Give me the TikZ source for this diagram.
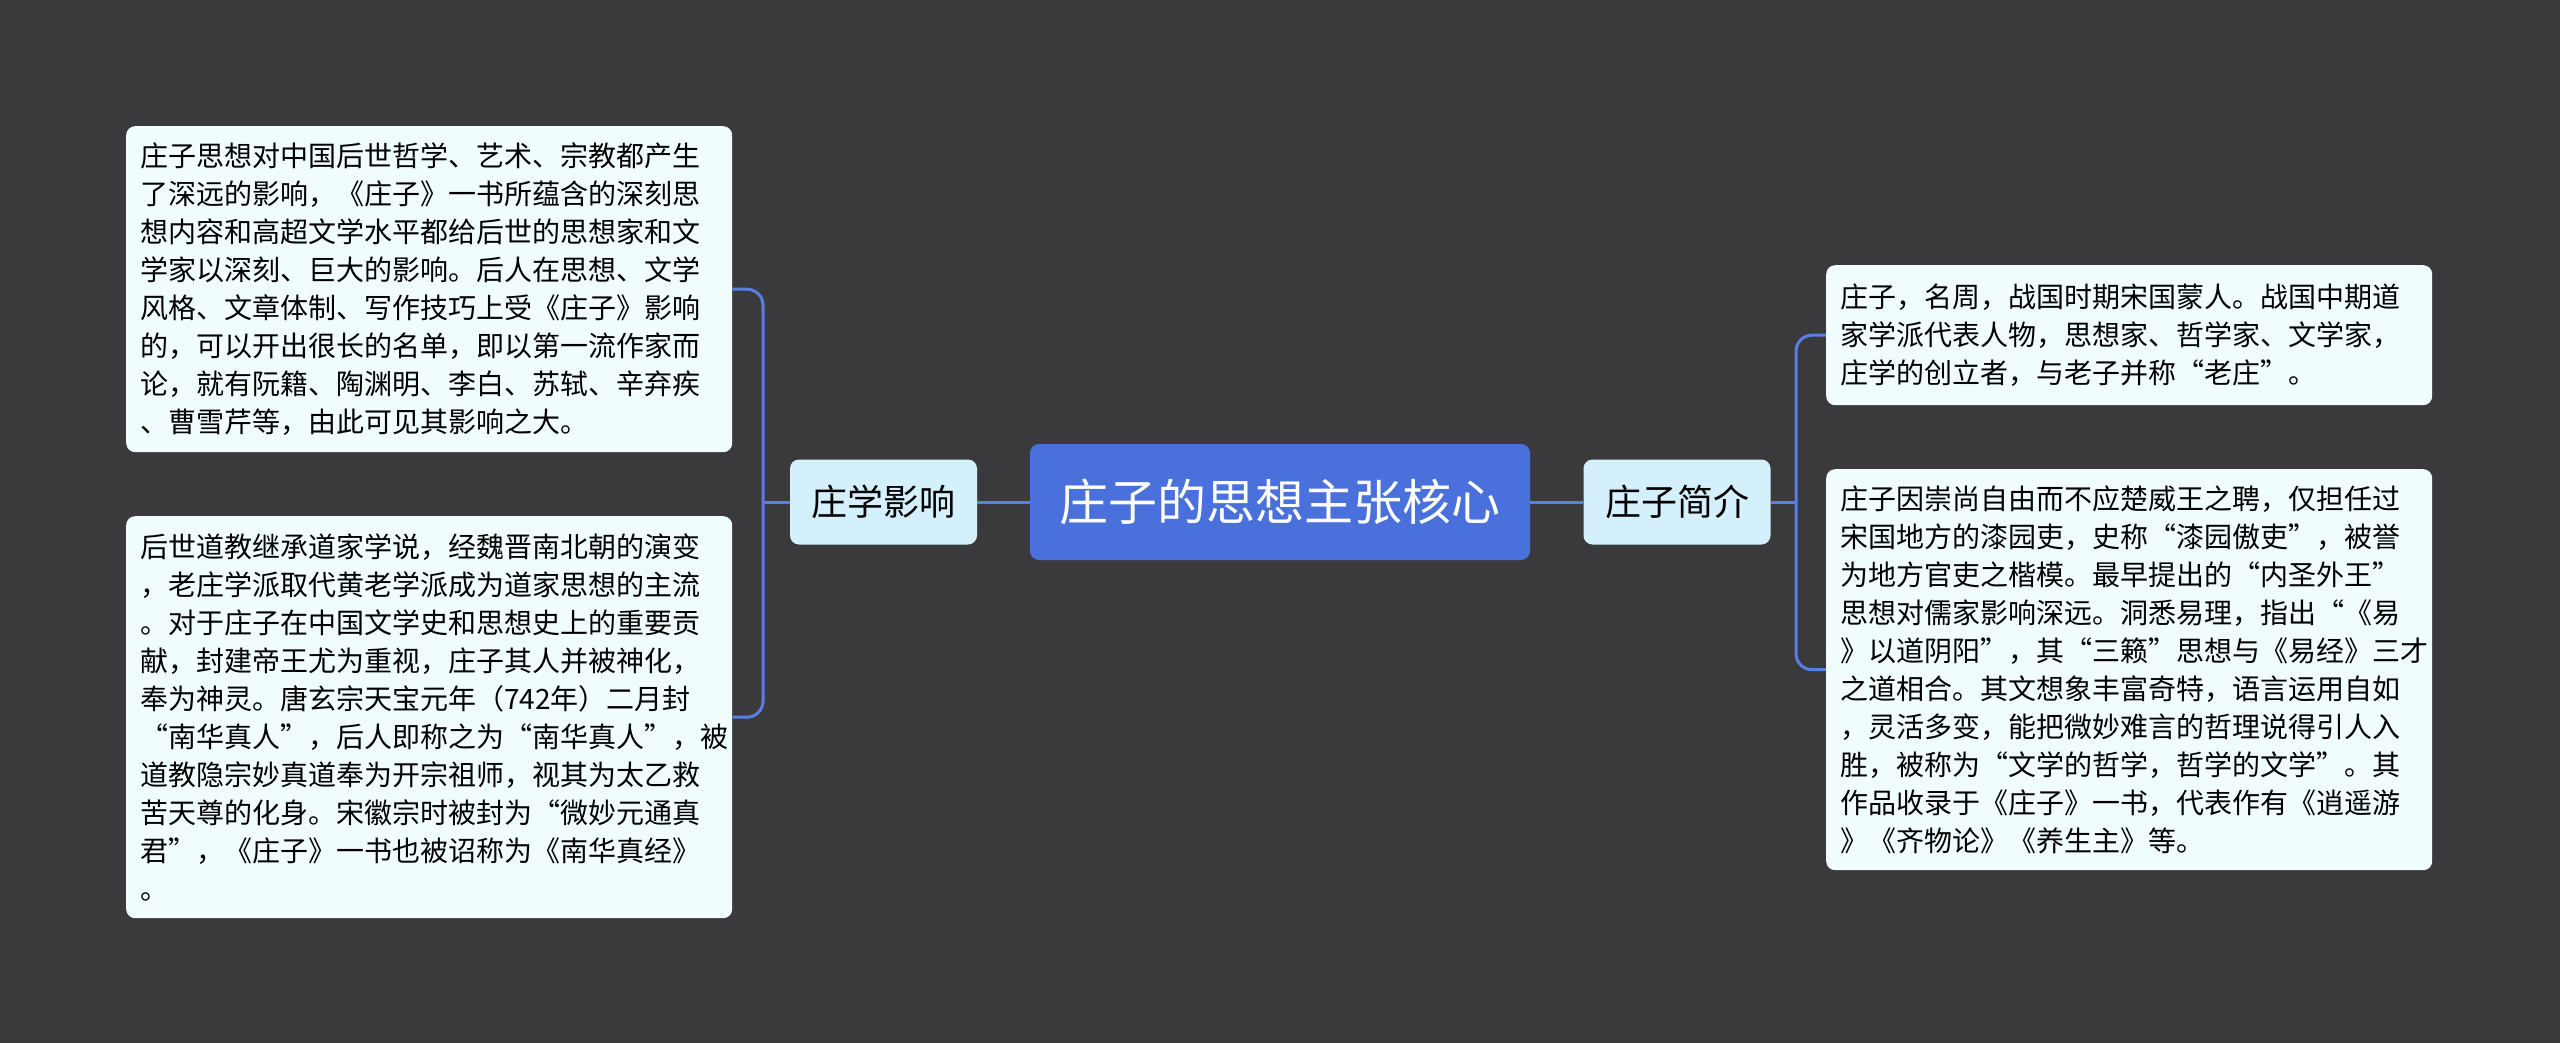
\documentclass[tikz,border=0pt]{standalone}
\usepackage{fontspec}
\newfontfamily\cjk{Noto Sans CJK SC}
\begin{document}
\begin{tikzpicture}[x=1pt,y=-1pt,
  leaf/.style={draw=none,fill=leafc,rounded corners=9pt,anchor=north west,align=left,
    text width=578pt,inner xsep=14pt,inner ysep=8pt,font=\fontsize{28}{38}\cjk,text=black},
  branch/.style={fill=branchc,rounded corners=9pt,minimum width=187pt,minimum height=85pt,
    font=\fontsize{36}{40}\cjk,text=black,inner sep=0pt},
  conn/.style={draw=linec,line width=3pt,rounded corners=16pt}]
\definecolor{bgc}{HTML}{3A3A3C}
\definecolor{leafc}{HTML}{F0FCFE}
\definecolor{branchc}{HTML}{D3F0FC}
\definecolor{linec}{HTML}{5A7FE3}
\definecolor{rootc}{HTML}{4A70DC}
\fill[bgc] (0,0) rectangle (2560,1043);
\useasboundingbox (0,0) rectangle (2560,1043);
\node[fill=rootc,rounded corners=9pt,minimum width=500pt,minimum height=116pt,
  font=\fontsize{49}{54}\cjk,text=white,inner sep=0pt] (root) at (1280,502) {庄子的思想主张核心};
\node[branch] (bl) at (883.5,502) {庄学影响};
\node[branch] (br) at (1677,502) {庄子简介};
\node[leaf,minimum height=326pt] (lt) at (126,126) {庄子思想对中国后世哲学、艺术、宗教都产生\\了深远的影响，《庄子》一书所蕴含的深刻思\\想内容和高超文学水平都给后世的思想家和文\\学家以深刻、巨大的影响。后人在思想、文学\\风格、文章体制、写作技巧上受《庄子》影响\\的，可以开出很长的名单，即以第一流作家而\\论，就有阮籍、陶渊明、李白、苏轼、辛弃疾\\、曹雪芹等，由此可见其影响之大。};
\node[leaf,minimum height=402pt] (lb) at (126,516) {后世道教继承道家学说，经魏晋南北朝的演变\\，老庄学派取代黄老学派成为道家思想的主流\\。对于庄子在中国文学史和思想史上的重要贡\\献，封建帝王尤为重视，庄子其人并被神化，\\奉为神灵。唐玄宗天宝元年（742年）二月封\\“南华真人”，后人即称之为“南华真人”，被\\道教隐宗妙真道奉为开宗祖师，视其为太乙救\\苦天尊的化身。宋徽宗时被封为“微妙元通真\\君”，《庄子》一书也被诏称为《南华真经》\\。};
\node[leaf,minimum height=140pt] (rt) at (1826,265) {庄子，名周，战国时期宋国蒙人。战国中期道\\家学派代表人物，思想家、哲学家、文学家，\\庄学的创立者，与老子并称“老庄”。};
\node[leaf,minimum height=401pt] (rb) at (1826,469) {庄子因崇尚自由而不应楚威王之聘，仅担任过\\宋国地方的漆园吏，史称“漆园傲吏”，被誉\\为地方官吏之楷模。最早提出的“内圣外王”\\思想对儒家影响深远。洞悉易理，指出“《易\\》以道阴阳”，其“三籁”思想与《易经》三才\\之道相合。其文想象丰富奇特，语言运用自如\\，灵活多变，能把微妙难言的哲理说得引人入\\胜，被称为“文学的哲学，哲学的文学”。其\\作品收录于《庄子》一书，代表作有《逍遥游\\》《齐物论》《养生主》等。};
\coordinate (lj) at (763,502);
\coordinate (rj) at (1796,502);
\draw[conn] (root.west) -- (bl.east);
\draw[conn] (root.east) -- (br.west);
\draw[conn] (bl.west) -- (lj);
\draw[conn] (lj) |- (lt.east);
\draw[conn] (lj) |- (lb.east);
\draw[conn] (br.east) -- (rj);
\draw[conn] (rj) |- (rt.west);
\draw[conn] (rj) |- (rb.west);
\end{tikzpicture}
\end{document}
